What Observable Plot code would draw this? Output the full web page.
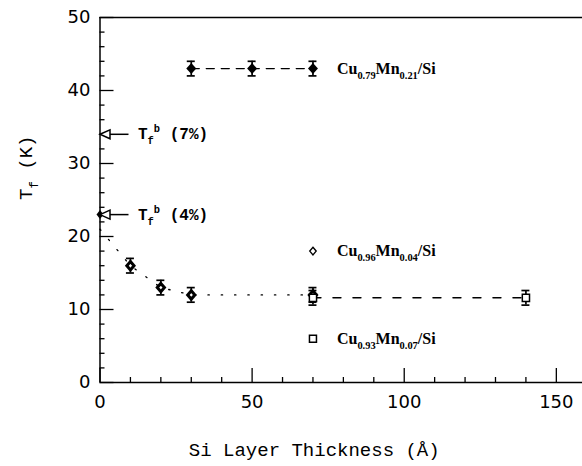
<!DOCTYPE html>
<html><head><meta charset="utf-8">
<script src="https://cdn.jsdelivr.net/npm/d3@7"></script>
<script src="https://cdn.jsdelivr.net/npm/@observablehq/plot@0.6"></script>
<style>body{margin:0;background:#fff}</style>
</head><body><div id="chart"></div>
<script>
// Cu0.79Mn0.21/Si
const thick21 = [30, 50, 70];
const tf21 = [43, 43, 43];
const err21 = [1, 1, 1];
// Cu0.96Mn0.04/Si
const thick04 = [10, 20, 30, 70];
const tf04 = [16, 13, 12, 12];
const err04 = [1, 1, 1, 1];
// Cu0.93Mn0.07/Si
const thick07 = [70, 140];
const tf07 = [11.6, 11.6];
const err07 = [1, 1];
// dotted guide through the 4% series
const guide04X = [0, 10, 20, 30, 70];
const guide04Y = [21, 16, 13, 12, 12];
// bulk Tf arrows
const bulkLabels = ["T_{f}^{b} (7%)", "T_{f}^{b} (4%)"];
const bulkX = [0, 0];
const bulkTf = [34, 23];
const bulkPointX = [0];
const bulkPointY = [23];
// legend
const legendLabels = ["Cu_{0.79}Mn_{0.21}/Si", "Cu_{0.96}Mn_{0.04}/Si", "Cu_{0.93}Mn_{0.07}/Si"];
const legendX = [70, 70, 70];
const legendY = [43, 18, 6];
// ticks
const xMajor = [0, 50, 100, 150];
const xMinor = [10, 20, 30, 40, 60, 70, 80, 90, 110, 120, 130, 140];
const yMajor = [0, 10, 20, 30, 40, 50];
const yMinor = [2, 4, 6, 8, 12, 14, 16, 18, 22, 24, 26, 28, 32, 34, 36, 38, 42, 44, 46, 48];
const xLabel = "Si Layer Thickness (Å)";
const yLabel = "T_{f} (K)";

const rows = (xs, ys, es) => xs.map((x, i) => ({x, y: ys[i], e: es ? es[i] : 0}));
const d21 = rows(thick21, tf21, err21);
const d04 = rows(thick04, tf04, err04);
const d07 = rows(thick07, tf07, err07);
const guide = rows(guide04X, guide04Y);
const bulk = bulkLabels.map((label, i) => ({label, x: bulkX[i], y: bulkTf[i]}));
const bulkPt = rows(bulkPointX, bulkPointY);
const legend = legendLabels.map((label, i) => ({label, x: legendX[i], y: legendY[i]}));
const legendMarks = legend.slice(1);

const diamond = (hw, hh) => ({draw(c) { c.moveTo(0, -hh); c.lineTo(hw, 0); c.lineTo(0, hh); c.lineTo(-hw, 0); c.closePath(); }});
const square = (h) => ({draw(c) { c.rect(-h, -h, 2 * h, 2 * h); }});
const leftTri = {draw(c) { c.moveTo(0, 0); c.lineTo(10, -4.5); c.lineTo(10, 4.5); c.closePath(); }};

const errMarks = (d) => [
  Plot.ruleX(d, {x: "x", y1: r => r.y - r.e, y2: r => r.y + r.e, strokeWidth: 1.7}),
  Plot.ruleY(d, {y: r => r.y + r.e, x1: "x", x2: "x", insetLeft: -4, insetRight: -4, strokeWidth: 1.7}),
  Plot.ruleY(d, {y: r => r.y - r.e, x1: "x", x2: "x", insetLeft: -4, insetRight: -4, strokeWidth: 1.7})
];

const chart = Plot.plot({
  width: 582, height: 466,
  marginLeft: 99.5, marginRight: 0, marginTop: 17, marginBottom: 84,
  x: {domain: [0, 158.6]},
  y: {domain: [0, 50]},
  style: {fontFamily: "DejaVu Sans", fontSize: "18px", background: "#fff", color: "#000"},
  marks: [
    Plot.axisX({ticks: xMajor, tickSize: 0, tickPadding: 13, label: null, fontSize: 18}),
    Plot.axisX({ticks: xMajor, tickSize: -14, tickFormat: () => "", label: null, strokeWidth: 1.3}),
    Plot.axisX({ticks: xMinor, tickSize: -5, tickFormat: () => "", label: null, strokeWidth: 1.3}),
    Plot.axisY({ticks: yMajor, tickSize: 0, tickPadding: 9.5, label: null, fontSize: 18}),
    Plot.axisY({ticks: yMajor, tickSize: -14, tickFormat: () => "", label: null, strokeWidth: 1.3}),
    Plot.axisY({ticks: yMinor, tickSize: -5, tickFormat: () => "", label: null, strokeWidth: 1.3}),
    Plot.ruleX([0], {strokeWidth: 1.5}),
    Plot.ruleY([0, 50], {strokeWidth: 1.5}),
    Plot.line(guide, {x: "x", y: "y", strokeDasharray: "1.3,12", strokeWidth: 1.4}),
    Plot.line(d21, {x: "x", y: "y", strokeDasharray: "8,7", strokeWidth: 1.4}),
    Plot.line(d07, {x: "x", y: "y", strokeDasharray: "8,12", strokeWidth: 1.4}),
    ...errMarks(d21), ...errMarks(d04), ...errMarks(d07),
    Plot.dot(d21, {x: "x", y: "y", symbol: diamond(5, 5.5), fill: "#000", stroke: "none"}),
    Plot.dot(d04, {x: "x", y: "y", symbol: diamond(3.6, 4.2), fill: "#fff", stroke: "#000", strokeWidth: 3}),
    Plot.dot(d07, {x: "x", y: "y", symbol: square(3.6), fill: "#fff", stroke: "#000", strokeWidth: 1.5}),
    Plot.dot(bulkPt, {x: "x", y: "y", symbol: diamond(3.5, 4.5), fill: "#000", stroke: "none"}),
    // bulk arrows
    Plot.ruleY(bulk, {y: "y", x1: "x", x2: "x", insetLeft: 8, insetRight: -29, strokeWidth: 1.5}),
    Plot.dot(bulk, {x: "x", y: "y", symbol: leftTri, fill: "#fff", stroke: "#000", strokeWidth: 1.5}),
    Plot.text(bulk, {x: "x", y: "y", text: "label", dx: 38, textAnchor: "start", fontFamily: "Liberation Mono", fontWeight: "bold", fontSize: 16}),
    // legend
    Plot.dot(legendMarks.slice(0, 1), {x: "x", y: "y", symbol: diamond(3.2, 3.8), fill: "#fff", stroke: "#000", strokeWidth: 1.4}),
    Plot.dot(legendMarks.slice(1), {x: "x", y: "y", symbol: square(3.5), fill: "#fff", stroke: "#000", strokeWidth: 1.5}),
    Plot.text(legend, {x: "x", y: "y", text: "label", dx: 24, textAnchor: "start", fontFamily: "Liberation Serif", fontWeight: "bold", fontSize: 16}),
    // axis labels
    Plot.text([xLabel], {frameAnchor: "bottom", dy: 73, dx: -27, fontFamily: "Liberation Mono", fontSize: 19}),
    Plot.text([yLabel], {frameAnchor: "left", dx: -74, rotate: -90, fontFamily: "Liberation Mono", fontSize: 19})
  ]
});
document.getElementById("chart").appendChild(chart);

// turn _{..} / ^{..} markup into real subscript / superscript tspans
chart.querySelectorAll("text").forEach(t => {
  const s = t.textContent;
  if (!/[_^]\{/.test(s)) return;
  const size = parseFloat(getComputedStyle(t).fontSize) || 14;
  const ns = "http://www.w3.org/2000/svg";
  while (t.firstChild) t.removeChild(t.firstChild);
  let shift = 0;
  const re = /([_^])\{([^}]*)\}|([^_^]+)/g;
  let m;
  while ((m = re.exec(s))) {
    const sp = document.createElementNS(ns, "tspan");
    let target = 0;
    if (m[1] === "_") { target = 0.3 * size; sp.setAttribute("font-size", 0.65 * size); sp.textContent = m[2]; }
    else if (m[1] === "^") { target = -0.45 * size; sp.setAttribute("font-size", 0.65 * size); sp.textContent = m[2]; }
    else { sp.textContent = m[3]; }
    sp.setAttribute("dy", target - shift);
    shift = target;
    t.appendChild(sp);
  }
});
</script>
</body></html>
